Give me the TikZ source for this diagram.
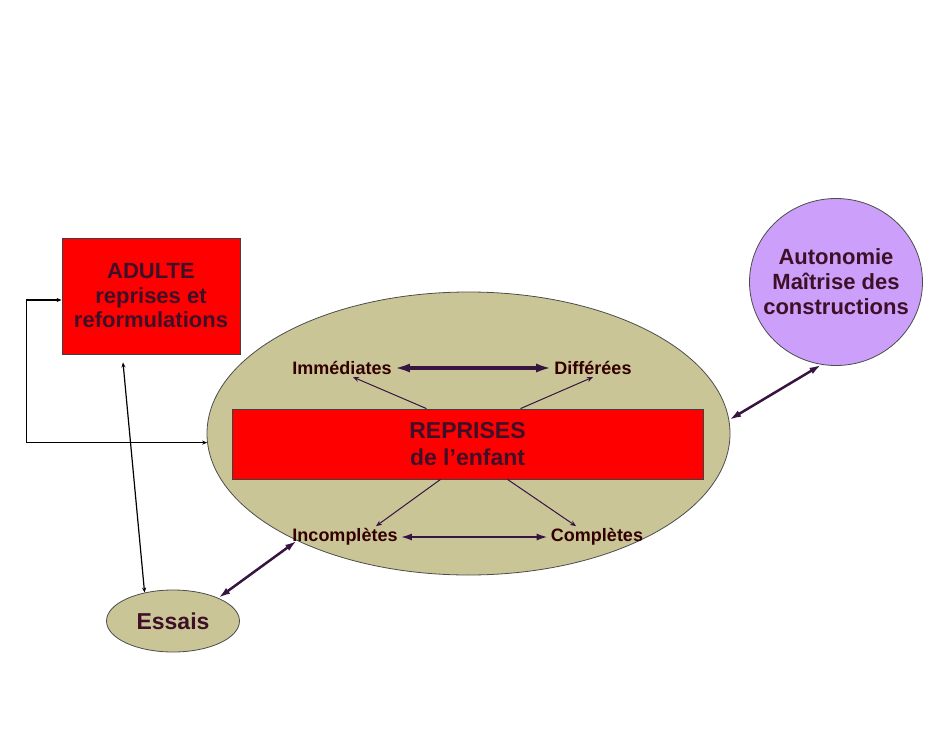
\documentclass[tikz,border=0pt]{standalone}
\usepackage{fontspec}
\setmainfont{Liberation Sans}
\usetikzlibrary{arrows.meta,shapes.geometric}
\definecolor{rougebox}{RGB}{255,0,0}
\definecolor{kaki}{RGB}{201,197,150}
\definecolor{lavande}{RGB}{204,160,250}
\definecolor{encre}{RGB}{62,16,40}
\definecolor{trait}{RGB}{56,20,64}

\begin{document}
\begin{tikzpicture}[x = 1pt, y = -1pt, thick]
\tikzstyle{boite} = [shape = rectangle, draw = black!75, fill = rougebox, text = encre, align = center, inner sep = 0pt]
\tikzstyle{bulle} = [shape = ellipse, draw = black!70, inner sep = 0pt, text = encre, align = center]
\tikzstyle{etiq} = [text = black!80!red, inner sep = 2pt, font = \fontsize{18}{20}\selectfont\bfseries]
\tikzstyle{grosse} = [draw = trait, line width = 4pt, {Latex[length=16pt,width=9pt]}-{Latex[length=16pt,width=9pt]}]
\tikzstyle{moyenne} = [draw = trait, line width = 2.5pt, {Latex[length=12pt,width=7pt]}-{Latex[length=12pt,width=7pt]}]
\tikzstyle{fine} = [draw = trait, line width = 1pt, -{Stealth[length=6pt,width=5pt]}]
\tikzstyle{lien} = [draw = black, line width = 1.2pt, {Stealth[length=5pt,width=4pt]}-{Stealth[length=5pt,width=4pt]}]
\useasboundingbox (0, 0) rectangle (933, 743);
\node[bulle] (E) at (468.5, 433.5) [fill = kaki, minimum width = 523pt, minimum height = 283pt] {};
\node[boite] (adulte) at (151, 296) [minimum width = 178pt, minimum height = 116pt, font = \fontsize{22}{24.5}\selectfont\bfseries] {ADULTE\\reprises et\\reformulations};
\node[boite] (rep) at (467.5, 444) [minimum width = 471pt, minimum height = 70pt, font = \fontsize{23}{27}\selectfont\bfseries] {REPRISES\\de l'enfant};
\node[bulle] (auto) at (836, 282) [fill = lavande, minimum width = 173pt, minimum height = 167pt, inner xsep = -14pt, font = \fontsize{22}{25}\selectfont\bfseries] {Autonomie\\Maîtrise des\\constructions};
\node[bulle] (essais) at (173, 621) [fill = kaki, minimum width = 133pt, minimum height = 62pt, font = \fontsize{23}{26}\selectfont\bfseries] {Essais};
\node[etiq] (imm) at (342, 368) {Immédiates};
\node[etiq] (dif) at (593, 368) {Différées};
\node[etiq] (inc) at (345, 537) {Incomplètes};
\node[etiq] (com) at (597, 537) {Complètes};
\draw[grosse] (imm) -- (dif);
\draw[moyenne] (inc) -- (com);
\draw[fine] ([xshift = -41pt]rep.north) -- ([xshift = 11pt]imm.south);
\draw[fine] ([xshift = 53pt]rep.north) -- (dif.south);
\draw[fine] ([xshift = -27pt]rep.south) -- ([xshift = 31pt]inc.north);
\draw[fine] ([xshift = 40pt]rep.south) -- ([xshift = -21pt]com.north);
\draw[moyenne] (E.3) -- (auto.-100);
\draw[moyenne] (essais.27) -- (E.212);
\draw[lien] ([xshift = -28pt, yshift = -8pt]adulte.south) -- (essais.135);
\draw[lien] ([yshift = -4pt]adulte.west) -- ++(-35, 0) |- (E.182);
\end{tikzpicture}
\end{document}
